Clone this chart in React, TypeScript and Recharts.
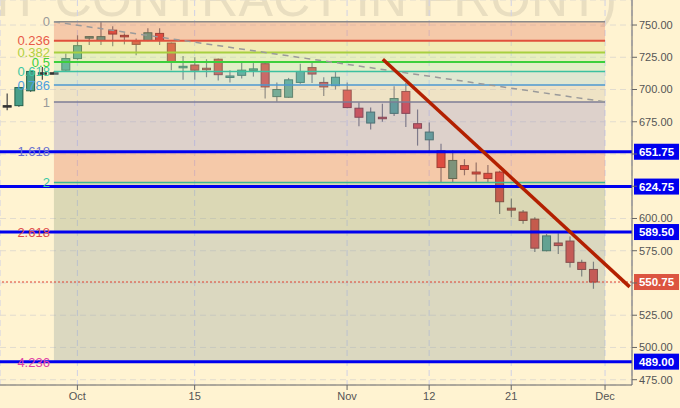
import React from 'react';
import { ComposedChart, Bar, XAxis, YAxis, CartesianGrid, ReferenceArea, ReferenceLine } from 'recharts';

// daily candles, Sep 21 - Nov 30 (slot index = position on the x axis)
const dates = [
  '09-21', '09-24', '09-25', '09-26', '09-27', '09-28',
  '10-01', '10-02', '10-03', '10-04', '10-05', '10-08', '10-09', '10-10', '10-11', '10-12',
  '10-15', '10-16', '10-17', '10-18', '10-19', '10-22', '10-23', '10-24', '10-25', '10-26',
  '10-29', '10-30', '10-31', '11-01', '11-02', '11-05', '11-06', '11-07', '11-08', '11-09',
  '11-12', '11-13', '11-14', '11-15', '11-16', '11-19', '11-20', '11-21', '11-22', '11-23',
  '11-26', '11-27', '11-28', '11-29', '11-30',
];
const opens = [
  687.5, 687.5, 699, 713, 713, 715, 724, 740, 738, 746, 742, 737.5, 738, 743.5, 736, 717.5,
  719, 716.5, 723.5, 710, 711, 715.5, 720, 694.5, 694, 705.5, 717, 705.5, 703, 699.5, 685.5,
  674, 678.5, 681.5, 698.5, 673.5, 661, 652.5, 631, 641, 636, 635, 636, 608, 605, 599.5, 575,
  581, 582.5, 566, 560.5,
];
const highs = [
  697, 702, 715, 717.5, 714, 728, 742, 741.5, 752.25, 749, 743.5, 739.5, 747.5, 747.5, 736.5, 726,
  725, 723.5, 724, 715, 721, 720.5, 721, 705.5, 709, 720, 720.5, 709.5, 714, 705.5, 690,
  686, 689, 702.5, 705, 684.5, 674.5, 658, 653, 646, 643.5, 641.5, 637, 615.5, 606.5, 601, 588,
  588.5, 586, 568, 566.5,
];
const lows = [
  684, 686.5, 698, 707.5, 712, 714.3, 723, 734.5, 734.5, 733.5, 735, 726.5, 737.5, 734.5, 715, 707.5,
  707.5, 709.5, 707, 705.5, 708.5, 710, 693, 690.5, 693.5, 704.5, 705, 695, 700, 685.5, 671.5,
  669, 675, 679.5, 671, 656.5, 652, 627.5, 627.5, 633.5, 628.5, 627.5, 603.5, 601, 596, 574, 574.5,
  572.5, 562, 555, 545.5,
];
const closes = [
  687.5, 701.5, 714, 713, 713, 724, 734, 741, 741, 743, 741, 735, 744, 738, 721, 718,
  715, 715.5, 711.5, 710.5, 715, 716, 702, 700, 707.5, 714, 712, 702, 709.5, 686, 678.5,
  682.5, 677.5, 693, 681.5, 670, 667, 639.5, 645, 638, 634.5, 631, 613, 606.5, 598.5, 577, 586.5,
  579, 566, 560.5, 550.75,
];

const xTicks = [6, 16, 29, 36, 43, 51];
const xTickLabels = ['Oct', '15', 'Nov', '12', '21', 'Dec'];
const yTicks = [475, 500, 525, 550, 575, 600, 625, 650, 675, 700, 725, 750];

// fibonacci retracement / extension
const fibHigh = 752.5;
const fibLow = 690.25;
const fibStart = 4;
const fibEnd = 51;
const fibLevels = [0, 0.236, 0.382, 0.5, 0.618, 0.786, 1, 1.618, 2, 2.618, 4.236];
const fibLineColors = ['#8a8a8a', '#e0503c', '#a8d040', '#3ccf3c', '#3cc0a0', '#4c98d0', '#7c7c96', '#6a6ad8', '#3cb894', '#d04848', '#d83ca0'];
const fibTextColors = ['#9a9a9a', '#e85a48', '#b0d040', '#3cd03c', '#3cc8a4', '#4ca0e0', '#9a9a9a', '#6a70d0', '#3cc8a4', '#e04c4c', '#e040a8'];
const fibBandColors = ['#e27b5e', '#d9dd80', '#bde8a0', '#abe5b8', '#a5d1d0', '#d1c5b0', '#9f93c0', '#e27b5e', '#99a580', '#99a5a0'];

const keyLevels = [651.75, 624.75, 589.5, 489.0];
const lastPrice = 550.75;

const trendDown = [{ x: 32.05, y: 723.5 }, { x: 53.1, y: 547 }];
const trendDash = [{ x: 4, y: 752.5 }, { x: 51, y: 690.5 }];

const fibPrice = (lvl: number) => fibHigh - lvl * (fibHigh - fibLow);

const rows = opens.map((o, i) => ({
  i,
  date: dates[i],
  open: o,
  high: highs[i],
  low: lows[i],
  close: closes[i],
  range: [lows[i], highs[i]],
}));

const FONT = '"Liberation Sans", Arial, sans-serif';

// tick labels hidden behind the price tags
const tagged = [...keyLevels, lastPrice];
const yTickText = (v: number) => (tagged.some((t) => Math.abs(t - v) < 6) ? '' : v.toFixed(2));

function Candle(props: any) {
  const { x, y, width, height, payload } = props;
  if (!payload || height == null) return null;
  const { open, close, high, low } = payload;
  const k = height / (high - low);
  const cx = x + width / 2;
  const top = y + (high - Math.max(open, close)) * k;
  const bh = Math.max(Math.abs(open - close) * k, 1.5);
  const flat = Math.abs(open - close) < 0.3;
  const up = close > open;
  const fill = flat ? '#333' : up ? '#48a08a' : '#dd3430';
  const edge = flat ? '#333' : up ? '#24604c' : '#7a2020';
  return (
    <g>
      <line x1={cx} x2={cx} y1={y} y2={y + height} stroke={flat ? '#444' : '#6e6e6e'} strokeWidth={1.2} />
      <rect x={x} y={top} width={width} height={bh} fill={fill} stroke={edge} strokeWidth={1} />
    </g>
  );
}

function PriceTag(props: any) {
  const { viewBox, text, bg } = props;
  if (!viewBox) return null;
  const x = viewBox.x + viewBox.width + 2;
  const y = viewBox.y;
  return (
    <g>
      <rect x={x} y={y - 8} width={45} height={16} fill={bg} />
      <text x={x + 22.5} y={y + 4} textAnchor="middle" fill="#fff" fontSize={11.5} fontWeight="bold" fontFamily={FONT}>
        {text}
      </text>
    </g>
  );
}

export default function App() {
  return (
    <div style={{ position: 'absolute', left: 0, top: 0, width: 680, height: 408, background: '#fff3d1', overflow: 'hidden' }}>
      <svg width={680} height={408} style={{ position: 'absolute', left: 0, top: 0 }}>
        <text x={-28} y={16} fontSize={52} fontFamily={FONT} fill="#e9dec0" textLength={645} lengthAdjust="spacingAndGlyphs">
          NT CONTRACT IN FRONT)
        </text>
      </svg>
      <div style={{ position: 'absolute', left: 0, top: 0 }}>
        <ComposedChart width={680} height={408} data={rows} margin={{ top: 0, right: 0, bottom: 0, left: 0 }}>
          <CartesianGrid horizontal={false} stroke="#cfd0e6" strokeDasharray="6 4" />
          <CartesianGrid vertical={false} stroke="#e2dccf" strokeDasharray="6 4" />
          <XAxis
            type="number"
            dataKey="i"
            domain={[-0.6, 53.3]}
            allowDataOverflow
            ticks={xTicks}
            tickFormatter={(v: number) => xTickLabels[xTicks.indexOf(v)] ?? ''}
            height={23}
            stroke="#666"
            tickSize={5}
            tick={{ fill: '#555', fontSize: 11, fontFamily: FONT }}
          />
          <YAxis
            orientation="right"
            domain={[470.9, 769.4]}
            allowDataOverflow
            ticks={yTicks}
            tickFormatter={yTickText}
            width={48}
            stroke="#666"
            tickSize={5}
            tick={{ fill: '#555', fontSize: 11, fontFamily: FONT }}
          />
          <Bar dataKey="range" barSize={8} shape={<Candle />} isAnimationActive={false} zIndex={50} />
          {fibBandColors.map((c, k) => (
            <ReferenceArea
              key={'band' + k}
              x1={fibStart}
              x2={fibEnd}
              y1={fibPrice(fibLevels[k])}
              y2={fibPrice(fibLevels[k + 1])}
              fill={c}
              fillOpacity={0.35}
              stroke="none"
              zIndex={60}
            />
          ))}
          {fibLevels.map((lvl, k) => (
            <ReferenceLine
              key={'fib' + k}
              segment={[{ x: fibStart, y: fibPrice(lvl) }, { x: fibEnd, y: fibPrice(lvl) }]}
              stroke={fibLineColors[k]}
              strokeWidth={k >= 1 && k <= 3 ? 2 : 1.5}
              label={{ value: String(lvl), position: 'left', offset: 4, fill: fibTextColors[k], fontSize: 13, fontFamily: FONT }}
            />
          ))}
          <ReferenceLine segment={trendDash} stroke="#9a9a9a" strokeWidth={1.5} strokeDasharray="6 5" />
          {keyLevels.map((v) => (
            <ReferenceLine key={'key' + v} y={v} stroke="#0000ee" strokeWidth={3} label={<PriceTag text={v.toFixed(2)} bg="#0000ee" />} />
          ))}
          <ReferenceLine
            y={lastPrice}
            stroke="#e04030"
            strokeDasharray="2 2"
            strokeWidth={1}
            label={<PriceTag text={lastPrice.toFixed(2)} bg="#dc5440" />}
          />
          <ReferenceLine segment={trendDown} stroke="#b32000" strokeWidth={3.5} />
        </ComposedChart>
      </div>
    </div>
  );
}
